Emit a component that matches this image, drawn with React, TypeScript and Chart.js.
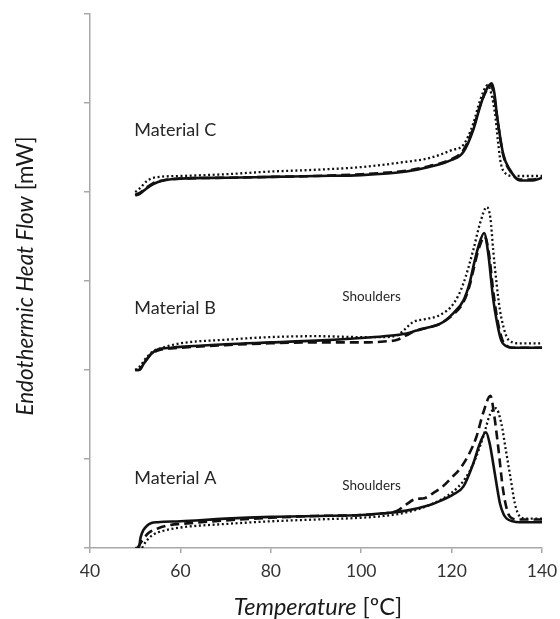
import React, { useEffect, useRef } from "react";
import { Chart, registerables } from "chart.js";

Chart.register(...registerables);

// ---- axis ticks ----
const xTickValues = [40, 60, 80, 100, 120, 140];
const yTickValues = [0, 1, 2, 3, 4, 5, 6];

// ---- Material A (offset 0) ----
const aSolidT = [50, 50.8, 51.2, 51.8, 52.6, 53.6, 55, 60, 70, 80, 90, 100, 105, 110, 115, 117.5, 120.3, 122.6, 124.8, 126.3, 127.6, 128.4, 129.2, 130, 130.7, 131.5, 132.2, 133.5, 135, 140];
const aSolidY = [0, 0, 0.12, 0.2, 0.25, 0.28, 0.29, 0.3, 0.33, 0.35, 0.36, 0.37, 0.39, 0.42, 0.48, 0.53, 0.6, 0.69, 0.95, 1.18, 1.3, 1.18, 0.95, 0.7, 0.5, 0.38, 0.33, 0.3, 0.29, 0.29];

const aDashT = [50.5, 51.5, 53, 55, 58, 60, 70, 80, 90, 100, 105, 108, 110, 112, 114, 116, 118, 120, 122, 124, 125.5, 127, 128.6, 129.4, 130.3, 131.4, 132.5, 133.5, 135, 140];
const aDashY = [0, 0.08, 0.17, 0.22, 0.26, 0.27, 0.31, 0.34, 0.36, 0.37, 0.39, 0.42, 0.49, 0.55, 0.56, 0.62, 0.69, 0.79, 0.9, 1.07, 1.25, 1.52, 1.71, 1.5, 1.14, 0.65, 0.39, 0.33, 0.32, 0.32];

const aDotT = [51.5, 52.5, 54, 56, 60, 70, 80, 90, 100, 105, 110, 115, 120, 123, 125, 127, 128.5, 129.8, 131, 132, 133, 134, 135, 136.5, 140];
const aDotY = [0, 0.08, 0.15, 0.19, 0.23, 0.27, 0.3, 0.32, 0.34, 0.36, 0.4, 0.48, 0.62, 0.78, 0.97, 1.25, 1.5, 1.57, 1.4, 1.1, 0.8, 0.5, 0.36, 0.33, 0.33];

// ---- Material B (offset 2) ----
const bSolidT = [50, 50.8, 52, 53.5, 55, 58, 60, 70, 80, 90, 100, 105, 110, 112, 115, 117.5, 120.4, 122.6, 124, 124.8, 126, 127.2, 128.1, 129.2, 130.1, 131, 132, 133.5, 135, 140];
const bSolidY = [2.0, 2.0, 2.08, 2.18, 2.23, 2.25, 2.26, 2.29, 2.31, 2.33, 2.36, 2.38, 2.41, 2.44, 2.48, 2.52, 2.64, 2.78, 2.98, 3.16, 3.4, 3.54, 3.31, 2.8, 2.52, 2.33, 2.27, 2.25, 2.25, 2.25];

const bDashT = [50, 50.8, 52, 53.5, 55, 60, 70, 80, 90, 95, 100, 105, 108, 110, 112, 115, 117.5, 120.5, 122.6, 124, 124.8, 126, 127.3, 128.2, 129.3, 130.3, 131.3, 132.3, 133.5, 140];
const bDashY = [2.0, 2.0, 2.08, 2.18, 2.22, 2.25, 2.28, 2.3, 2.31, 2.31, 2.31, 2.32, 2.34, 2.39, 2.44, 2.48, 2.52, 2.63, 2.76, 2.95, 3.12, 3.36, 3.5, 3.33, 2.85, 2.52, 2.33, 2.27, 2.25, 2.25];

const bDotT = [50, 51, 52.5, 54, 56, 60, 70, 80, 90, 100, 105, 108, 109.5, 111.5, 114, 117.5, 120.5, 122.6, 124.8, 126.3, 127.8, 128.6, 129.2, 130, 130.7, 131.5, 132.2, 133.5, 135, 140];
const bDotY = [2.0, 2.04, 2.14, 2.21, 2.25, 2.3, 2.34, 2.37, 2.38, 2.37, 2.37, 2.39, 2.45, 2.54, 2.57, 2.62, 2.75, 2.97, 3.35, 3.65, 3.83, 3.7, 3.35, 2.95, 2.67, 2.48, 2.37, 2.31, 2.3, 2.3];

// ---- Material C (offset 4) ----
const cSolidT = [50, 51, 52.5, 54, 56.2, 60, 70, 80, 90, 100, 110, 115, 120, 122.6, 124.8, 126.3, 127.5, 128.9, 129.5, 130, 131.4, 132.9, 135.1, 138, 140];
const cSolidY = [3.96, 3.98, 4.04, 4.09, 4.13, 4.15, 4.16, 4.17, 4.18, 4.19, 4.23, 4.28, 4.36, 4.45, 4.7, 4.96, 5.13, 5.22, 5.1, 4.88, 4.43, 4.25, 4.13, 4.13, 4.16];

const cDashT = [50, 51, 52.5, 54, 56.2, 60, 70, 80, 90, 100, 110, 115, 120, 122.6, 124.8, 126.3, 127.5, 128.7, 129.4, 130, 131.4, 132.9, 135.1, 138, 140];
const cDashY = [3.97, 3.99, 4.05, 4.1, 4.13, 4.15, 4.16, 4.17, 4.18, 4.2, 4.24, 4.29, 4.37, 4.47, 4.72, 4.97, 5.12, 5.2, 5.08, 4.86, 4.42, 4.24, 4.14, 4.14, 4.16];

const cDotT = [50, 51, 52.5, 54, 60, 70, 80, 90, 100, 110, 115, 120, 122.6, 124.8, 126.3, 128, 128.8, 129.6, 130.3, 130.9, 131.9, 133.6, 140];
const cDotY = [4.0, 4.04, 4.12, 4.16, 4.18, 4.2, 4.23, 4.25, 4.28, 4.34, 4.38, 4.47, 4.53, 4.77, 5.03, 5.2, 5.1, 4.88, 4.55, 4.32, 4.21, 4.18, 4.18];

// ---- annotations ----
const materialLabels = ["Material A", "Material B", "Material C"];
const materialLabelValues = [0.78, 2.7, 4.7];
const shoulderLabel = "Shoulders";
const shoulderLabelValues = [0.7, 2.82];

const xTitleItalic = "Temperature";
const xTitleRegular = " [ºC]";
const yTitleItalic = "Endothermic Heat Flow";
const yTitleRegular = " [mW]";

const toPoints = (t: number[], y: number[]) => t.map((v, i) => ({ x: v, y: y[i] }));

const FONT = "Lato, 'Open Sans', sans-serif";

function makeDs(t: number[], y: number[], style: "solid" | "dash" | "dot") {
  return {
    data: toPoints(t, y),
    borderColor: "#111111",
    borderWidth: style === "dot" ? 2.3 : 2.6,
    borderDash: style === "dash" ? [9, 5] : style === "dot" ? [2, 2.6] : [],
    borderCapStyle: "butt" as const,
    pointRadius: 0,
    fill: false,
    cubicInterpolationMode: "monotone" as const,
  };
}

function mixedText(ctx: CanvasRenderingContext2D, italic: string, regular: string, size: number) {
  ctx.font = `italic ${size}px ${FONT}`;
  const w1 = ctx.measureText(italic).width;
  ctx.font = `${size}px ${FONT}`;
  const w2 = ctx.measureText(regular).width;
  const start = -(w1 + w2) / 2;
  ctx.textAlign = "left";
  ctx.textBaseline = "middle";
  ctx.font = `italic ${size}px ${FONT}`;
  ctx.fillText(italic, start, 0);
  ctx.font = `${size}px ${FONT}`;
  ctx.fillText(regular, start + w1, 0);
}

const textPlugin = {
  id: "textPlugin",
  afterDraw(chart: any) {
    const ctx: CanvasRenderingContext2D = chart.ctx;
    const xs = chart.scales.x;
    const ys = chart.scales.y;
    ctx.save();
    ctx.fillStyle = "#262626";
    // material labels
    ctx.font = `18px ${FONT}`;
    ctx.textAlign = "left";
    ctx.textBaseline = "middle";
    materialLabels.forEach((lab, i) => {
      ctx.fillText(lab, xs.getPixelForValue(49.8), ys.getPixelForValue(materialLabelValues[i]));
    });
    ctx.font = `13.5px ${FONT}`;
    shoulderLabelValues.forEach((v) => {
      ctx.fillText(shoulderLabel, xs.getPixelForValue(95.8), ys.getPixelForValue(v));
    });
    // axis titles
    ctx.fillStyle = "#1a1a1a";
    ctx.save();
    ctx.translate(318, 607);
    mixedText(ctx, xTitleItalic, xTitleRegular, 23.5);
    ctx.restore();
    ctx.save();
    ctx.translate(26, 276);
    ctx.rotate(-Math.PI / 2);
    mixedText(ctx, yTitleItalic, yTitleRegular, 22.5);
    ctx.restore();
    ctx.restore();
  },
};

export default function App() {
  const ref = useRef<HTMLCanvasElement>(null);
  useEffect(() => {
    if (!ref.current) return;
    const chart = new Chart(ref.current, {
      type: "line",
      data: {
        datasets: [
          makeDs(aSolidT, aSolidY, "solid"),
          makeDs(aDashT, aDashY, "dash"),
          makeDs(aDotT, aDotY, "dot"),
          makeDs(bSolidT, bSolidY, "solid"),
          makeDs(bDashT, bDashY, "dash"),
          makeDs(bDotT, bDotY, "dot"),
          makeDs(cSolidT, cSolidY, "solid"),
          makeDs(cDashT, cDashY, "dash"),
          makeDs(cDotT, cDotY, "dot"),
        ],
      },
      options: {
        animation: false,
        responsive: true,
        maintainAspectRatio: false,
        layout: { padding: { top: 14, right: 18, left: 0, bottom: 0 } },
        plugins: { legend: { display: false }, tooltip: { enabled: false } },
        scales: {
          x: {
            type: "linear",
            min: 40,
            max: 140,
            afterBuildTicks: (s: any) => {
              s.ticks = xTickValues.map((v) => ({ value: v }));
            },
            afterFit: (s: any) => {
              s.height = 71;
              s.paddingRight = 0;
              s.paddingLeft = 0;
            },
            ticks: { color: "#333333", font: { family: FONT, size: 17.5 }, padding: 8 },
            grid: { drawOnChartArea: false, drawTicks: true, tickLength: 5, color: "#a8a8a8", lineWidth: 1.5 },
            border: { color: "#a8a8a8", width: 1.5 },
          },
          y: {
            type: "linear",
            min: 0,
            max: 6,
            afterBuildTicks: (s: any) => {
              s.ticks = yTickValues.map((v) => ({ value: v }));
            },
            afterFit: (s: any) => {
              s.width = 90;
            },
            ticks: { display: false },
            grid: { drawOnChartArea: false, drawTicks: true, tickLength: 6, color: "#a8a8a8", lineWidth: 1.5 },
            border: { color: "#a8a8a8", width: 1.5 },
          },
        },
      },
      plugins: [textPlugin],
    } as any);
    return () => chart.destroy();
  }, []);
  return (
    <div style={{ position: "absolute", left: 0, top: 0, width: 560, height: 619, background: "#fff" }}>
      <canvas ref={ref} />
    </div>
  );
}
